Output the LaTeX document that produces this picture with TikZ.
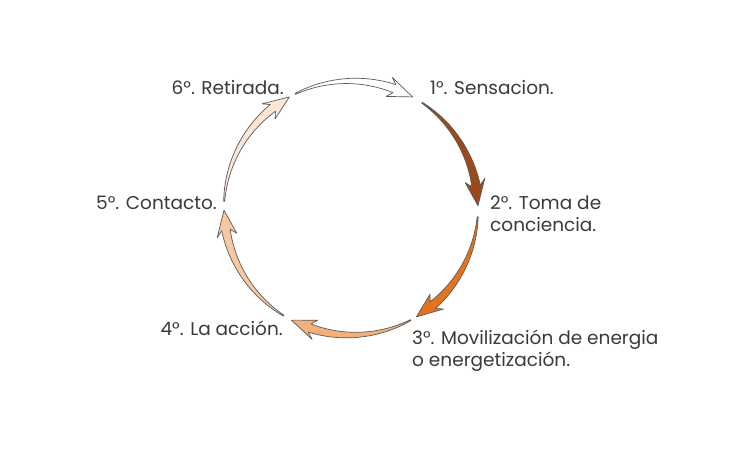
\documentclass[tikz,border=0pt]{standalone}
\usepackage{fontspec}
\setmainfont{Poppins}
\definecolor{txt}{HTML}{3A3A3A}
\definecolor{edge}{HTML}{5A5A5A}
\definecolor{cA}{HTML}{9C4A1A}
\definecolor{cB}{HTML}{E4731E}
\definecolor{cC}{HTML}{F3B07A}
\definecolor{cD}{HTML}{F7C9A2}
\definecolor{cE}{HTML}{FCE6D6}
\definecolor{cF}{HTML}{FFFFFF}
\newcommand\cycCx{351}
\newcommand\cycCy{242}
\newcommand\cycR{127}
\newcommand\cycarrow[3]{%
  \pgfmathsetmacro\cycHb{#2+9}%
  \pgfmathsetmacro\cycHk{#2+11.5}%
  \pgfmathsetmacro\cycSpan{#1-\cycHb}%
  \filldraw[arr, fill=#3]
    plot[domain=#1:\cycHb, samples=30, variable=\t]
      ({\cycCx+(\cycR+0.5+3.8*((#1)-(\t))/\cycSpan)*cos(\t)},
       {\cycCy+(\cycR+0.5+3.8*((#1)-(\t))/\cycSpan)*sin(\t)})
    -- ({\cycCx+(\cycR+10)*cos(\cycHk)}, {\cycCy+(\cycR+10)*sin(\cycHk)})
    -- ({\cycCx+\cycR*cos(#2)}, {\cycCy+\cycR*sin(#2)})
    -- ({\cycCx+(\cycR-10)*cos(\cycHk)}, {\cycCy+(\cycR-10)*sin(\cycHk)})
    -- plot[domain=\cycHb:#1, samples=30, variable=\t]
      ({\cycCx+(\cycR-0.5-3.8*((#1)-(\t))/\cycSpan)*cos(\t)},
       {\cycCy+(\cycR-0.5-3.8*((#1)-(\t))/\cycSpan)*sin(\t)})
    -- cycle;
}
\begin{document}
\begin{tikzpicture}[x=1pt,y=1pt,
  lbl/.style={text=txt, font=\fontsize{18.5}{22}\selectfont, inner sep=0pt, align=left},
  arr/.style={draw=edge, line width=0.7pt, line join=round}]
\useasboundingbox[fill=white] (0,0) rectangle (750,450);
\cycarrow{56}{1}{cA}
\cycarrow{-4}{-59}{cB}
\cycarrow{-62}{-118}{cC}
\cycarrow{-122}{-179}{cD}
\cycarrow{177}{119}{cE}
\cycarrow{116}{61}{cF}
\node[lbl, anchor=west] (n1) at (430,362) {1°. Sensacion.};
\node[lbl, anchor=west] (n2) at (490,236) {2°. Toma de\\conciencia.};
\node[lbl, anchor=west] (n3) at (412,99) {3°. Movilización de energia\\o energetización.};
\node[lbl, anchor=east] (n4) at (283,122) {4°. La acción.};
\node[lbl, anchor=east] (n5) at (217,247) {5°. Contacto.};
\node[lbl, anchor=east] (n6) at (284,362) {6°. Retirada.};
\end{tikzpicture}
\end{document}
